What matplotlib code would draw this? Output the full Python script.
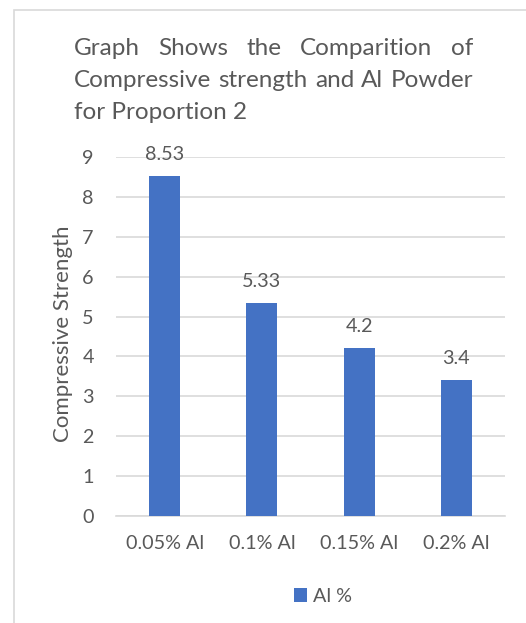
import matplotlib
matplotlib.use('Agg')
import matplotlib.pyplot as plt
from matplotlib.patches import Rectangle

# 数据
categories = ['0.05% Al', '0.1% Al', '0.15% Al', '0.2% Al']
strength = [8.53, 5.33, 4.2, 3.4]
value_labels = ['8.53', '5.33', '4.2', '3.4']
y_ticks = list(range(0, 10))
series_name = 'Al %'
title_lines = ['Graph Shows the Comparition of',
               'Compressive strength and Al Powder',
               'for Proportion 2']
y_label = 'Compressive Strength'

W, H = 526, 623
TXT = '#595959'
GRID = '#D9D9D9'
BAR = '#4472C4'
FONT = 'Lato'
FS = 14.2

plt.rcParams['font.family'] = [FONT, 'DejaVu Sans']

fig = plt.figure(figsize=(W / 100, H / 100), dpi=100)

def fx(px):
    return px / W

def fy(py):
    return 1 - py / H

# 图表外框
fig.patches.append(Rectangle((fx(14), -0.1), 2, fy(10) + 0.1, transform=fig.transFigure,
                             fill=False, edgecolor=GRID, lw=1.2))

ax = fig.add_axes([fx(116), fy(516), fx(505) - fx(116), fy(157) - fy(516)])
x = range(len(categories))
bars = ax.bar(x, strength, width=0.32, color=BAR, label=series_name, zorder=3)
for xi, v, lab in zip(x, strength, value_labels):
    ax.annotate(lab, (xi, v), xytext=(0, 11.5), textcoords='offset points',
                ha='center', va='baseline', fontsize=FS, color=TXT)

ax.set_xlim(-0.5, len(categories) - 0.5)
ax.set_ylim(0, 9)
ax.set_yticks(y_ticks)
ax.set_xticks(list(x))
ax.set_xticklabels(categories)
ax.tick_params(axis='both', length=0, labelsize=FS, labelcolor=TXT)
ax.tick_params(axis='x', pad=14)
ax.tick_params(axis='y', pad=16)
ax.grid(axis='y', color=GRID, lw=1.2, zorder=0)
for s in ['left', 'right', 'top']:
    ax.spines[s].set_visible(False)
ax.spines['bottom'].set_color(GRID)
ax.spines['bottom'].set_linewidth(1.2)

# 纵轴标题
fig.text(fx(63), fy(334), y_label, rotation=90, ha='center', va='center',
         fontsize=16, color=TXT)

# 两端对齐的标题
fig.canvas.draw()
renderer = fig.canvas.get_renderer()
left_px, right_px = 74, 473
baselines = [55, 87, 119]
for i, (line, base) in enumerate(zip(title_lines, baselines)):
    words = line.split()
    if i == len(title_lines) - 1:
        fig.text(fx(left_px), fy(base), line, fontsize=17.5, color=TXT, va='baseline')
        continue
    texts = [fig.text(0, fy(base), w, fontsize=17.5, color=TXT, va='baseline') for w in words]
    widths = [t.get_window_extent(renderer).width for t in texts]
    gap = (right_px - left_px - sum(widths)) / (len(words) - 1)
    pos = left_px
    for t, w in zip(texts, widths):
        t.set_x(fx(pos))
        pos += w + gap

fig.legend(handles=[bars], loc='center', bbox_to_anchor=(fx(323), fy(596)), frameon=False,
           handlelength=0.7, handleheight=0.7, handletextpad=0.3, fontsize=FS,
           labelcolor=TXT)

fig.savefig('out.png', dpi=100)
